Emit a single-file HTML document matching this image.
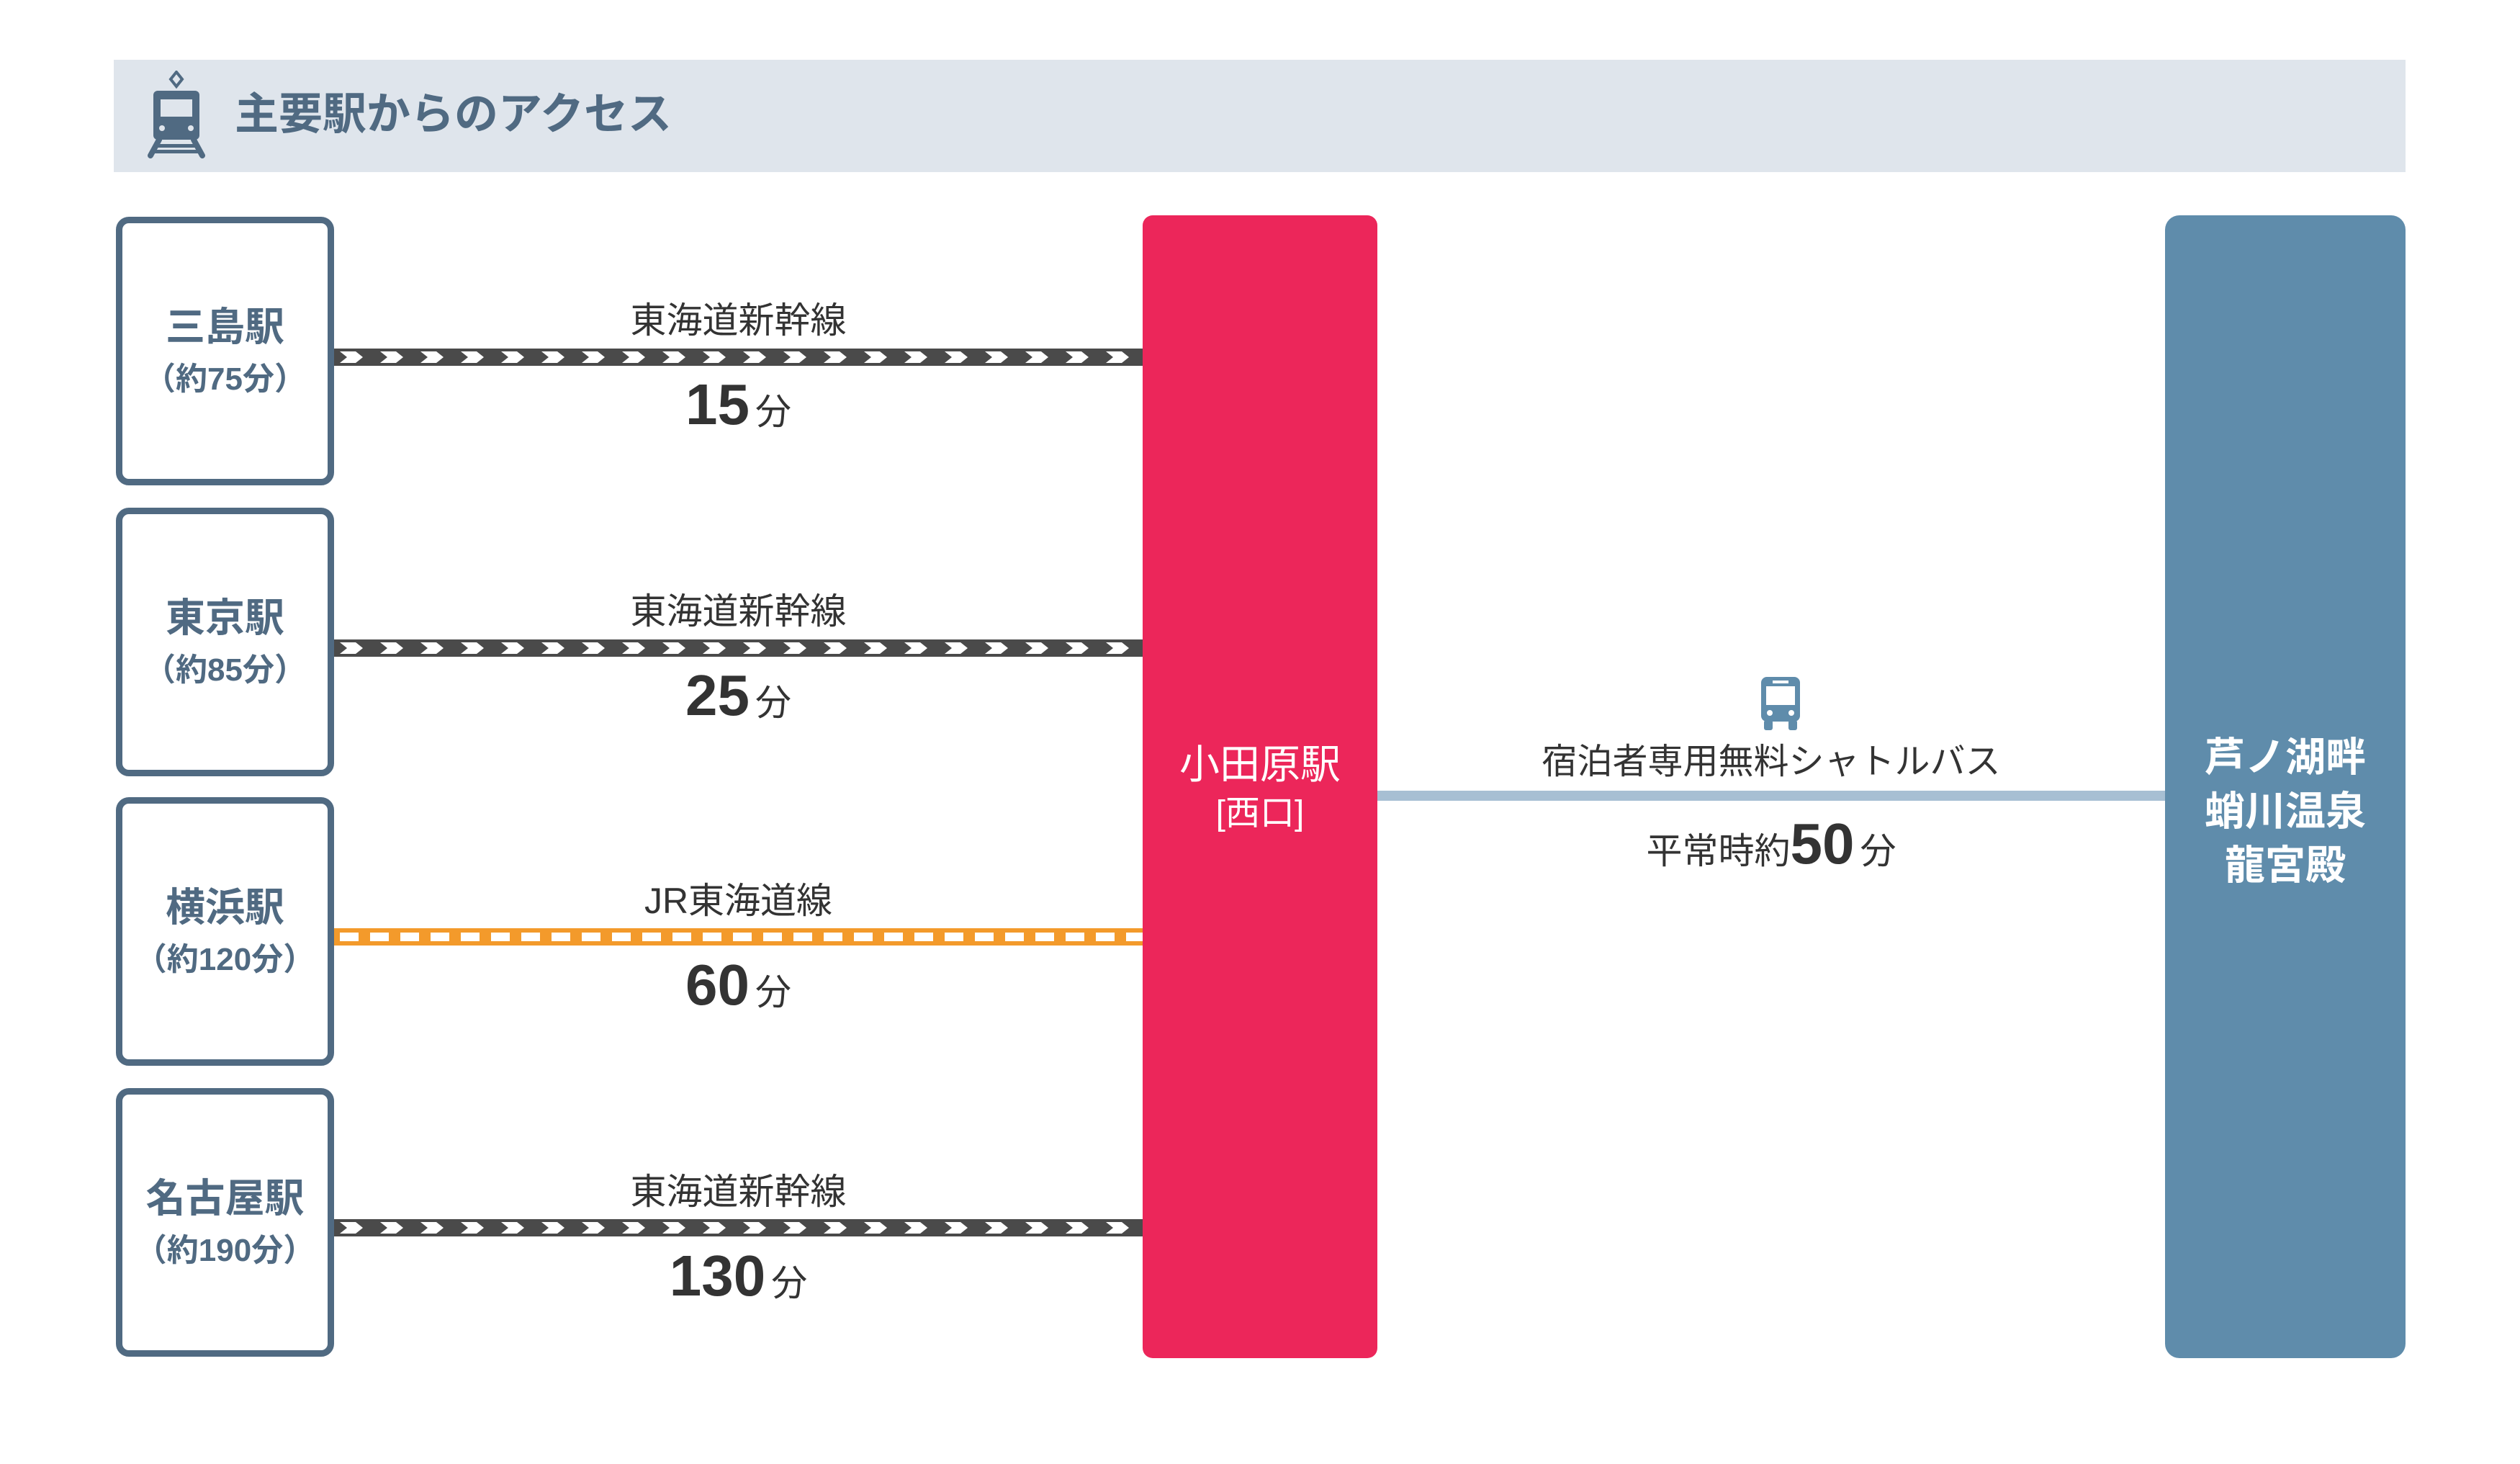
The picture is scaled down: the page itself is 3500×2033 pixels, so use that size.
<!DOCTYPE html>
<html><head><meta charset="utf-8"><style>
body{margin:0;width:3500px;height:2033px;background:#fff;position:relative;overflow:hidden;font-family:"Liberation Sans","Noto Sans CJK JP",sans-serif}
.a{position:absolute}
.box{position:absolute;left:161px;width:285px;height:355px;border:9px solid #506a82;border-radius:18px;background:#fff}
.bn{position:absolute;left:0;width:100%;text-align:center;color:#506a82;font-weight:bold;line-height:1}
.lbl{position:absolute;left:464px;width:1123px;text-align:center;color:#333;font-size:50px;line-height:1}
.tm{position:absolute;left:464px;width:1123px;text-align:center;color:#333;line-height:1}
.tm b{font-size:80px}
.tm span{font-size:50px;margin-left:8px}
.c{position:absolute;text-align:center;line-height:1}
.trk{position:absolute;left:464px}
</style></head><body>
<div class="a" style="left:158px;top:83px;width:3183px;height:156px;background:#dfe5ec"></div>
<svg class="a" style="left:205px;top:98px" width="80" height="122" viewBox="0 0 80 122">
<path d="M40 2 L48 12 L40 22 L32 12Z" fill="none" stroke="#506a82" stroke-width="4"/>
<rect x="8" y="28" width="64" height="68" rx="6" fill="#506a82"/>
<rect x="18" y="40" width="44" height="24" fill="#dfe5ec"/>
<circle cx="20" cy="80" r="4" fill="#dfe5ec"/><circle cx="60" cy="80" r="4" fill="#dfe5ec"/>
<path d="M16 96 L4 118 M64 96 L76 118" stroke="#506a82" stroke-width="8" stroke-linecap="round"/>
<rect x="14" y="102" width="52" height="5" fill="#506a82"/><rect x="10" y="110" width="60" height="5" fill="#506a82"/>
</svg>
<div class="a" style="left:326px;top:128px;font-size:61px;line-height:1;color:#506a82;font-weight:bold">主要駅からのアクセス</div>

<svg width="0" height="0" style="position:absolute">
<defs>
<pattern id="chev" x="0" y="0" width="56" height="24" patternUnits="userSpaceOnUse">
<rect width="56" height="24" fill="#4a4a4a"/>
<path d="M8 4 L30 4 L40 12 L30 20 L8 20 L18 12Z" fill="#fff"/>
</pattern>
<pattern id="dash" x="0" y="0" width="42" height="24" patternUnits="userSpaceOnUse">
<rect width="42" height="24" fill="#f39a2b"/>
<rect x="8" y="6" width="26" height="12" fill="#fff"/>
</pattern>
</defs>
</svg>
<svg class="trk" style="top:484px" width="1123" height="24"><rect width="1123" height="24" fill="url(#chev)"/></svg>
<svg class="trk" style="top:888px" width="1123" height="24"><rect width="1123" height="24" fill="url(#chev)"/></svg>
<svg class="trk" style="top:1289px" width="1123" height="24"><rect width="1123" height="24" fill="url(#dash)"/></svg>
<svg class="trk" style="top:1693px" width="1123" height="24"><rect width="1123" height="24" fill="url(#chev)"/></svg>
<div class="a" style="left:1913px;top:1098px;width:1094px;height:14px;background:#a7bfd3"></div>

<div class="box" style="top:301px"><div class="bn" style="top:117px;font-size:55px">三島駅</div><div class="bn" style="top:195px;font-size:44px">（約75分）</div></div>
<div class="box" style="top:705px"><div class="bn" style="top:117px;font-size:55px">東京駅</div><div class="bn" style="top:195px;font-size:44px">（約85分）</div></div>
<div class="box" style="top:1107px"><div class="bn" style="top:117px;font-size:55px">横浜駅</div><div class="bn" style="top:195px;font-size:44px">（約120分）</div></div>
<div class="box" style="top:1511px"><div class="bn" style="top:117px;font-size:55px">名古屋駅</div><div class="bn" style="top:195px;font-size:44px">（約190分）</div></div>

<div class="lbl" style="top:420px">東海道新幹線</div>
<div class="tm" style="top:522px"><b>15</b><span>分</span></div>
<div class="lbl" style="top:824px">東海道新幹線</div>
<div class="tm" style="top:926px"><b>25</b><span>分</span></div>
<div class="lbl" style="top:1226px">JR東海道線</div>
<div class="tm" style="top:1328px"><b>60</b><span>分</span></div>
<div class="lbl" style="top:1630px">東海道新幹線</div>
<div class="tm" style="top:1732px"><b>130</b><span>分</span></div>

<div class="a" style="left:1587px;top:299px;width:326px;height:1587px;background:#ec265a;border-radius:14px"></div>
<div class="c" style="left:1587px;width:326px;top:1034px;font-size:56px;color:#fff">小田原駅</div>
<div class="c" style="left:1587px;width:326px;top:1106px;font-size:48px;color:#fff">[西口]</div>

<div class="a" style="left:3007px;top:299px;width:334px;height:1587px;background:#5f8cab;border-radius:20px"></div>
<div class="c" style="left:3007px;width:334px;top:1014px;font-size:56px;color:#fff;line-height:75px;font-weight:bold">芦ノ湖畔<br>蛸川温泉<br>龍宮殿</div>

<svg class="a" style="left:2444px;top:938px" width="58" height="78" viewBox="0 0 58 78">
<rect x="2" y="2" width="54" height="62" rx="8" fill="#5f8cab"/>
<rect x="18" y="7" width="22" height="4" fill="#fff"/>
<rect x="9" y="15" width="40" height="26" fill="#fff"/>
<circle cx="14" cy="52" r="4" fill="#fff"/><circle cx="44" cy="52" r="4" fill="#fff"/>
<rect x="6" y="62" width="12" height="14" rx="3" fill="#5f8cab"/><rect x="40" y="62" width="12" height="14" rx="3" fill="#5f8cab"/>
</svg>
<div class="c" style="left:1913px;width:1094px;top:1034px;font-size:49px;color:#333">宿泊者専用無料シャトルバス</div>
<div class="c" style="left:1913px;width:1094px;top:1132px;color:#333"><span style="font-size:50px">平常時約</span><b style="font-size:80px">50</b><span style="font-size:50px;margin-left:8px">分</span></div>
</body></html>
